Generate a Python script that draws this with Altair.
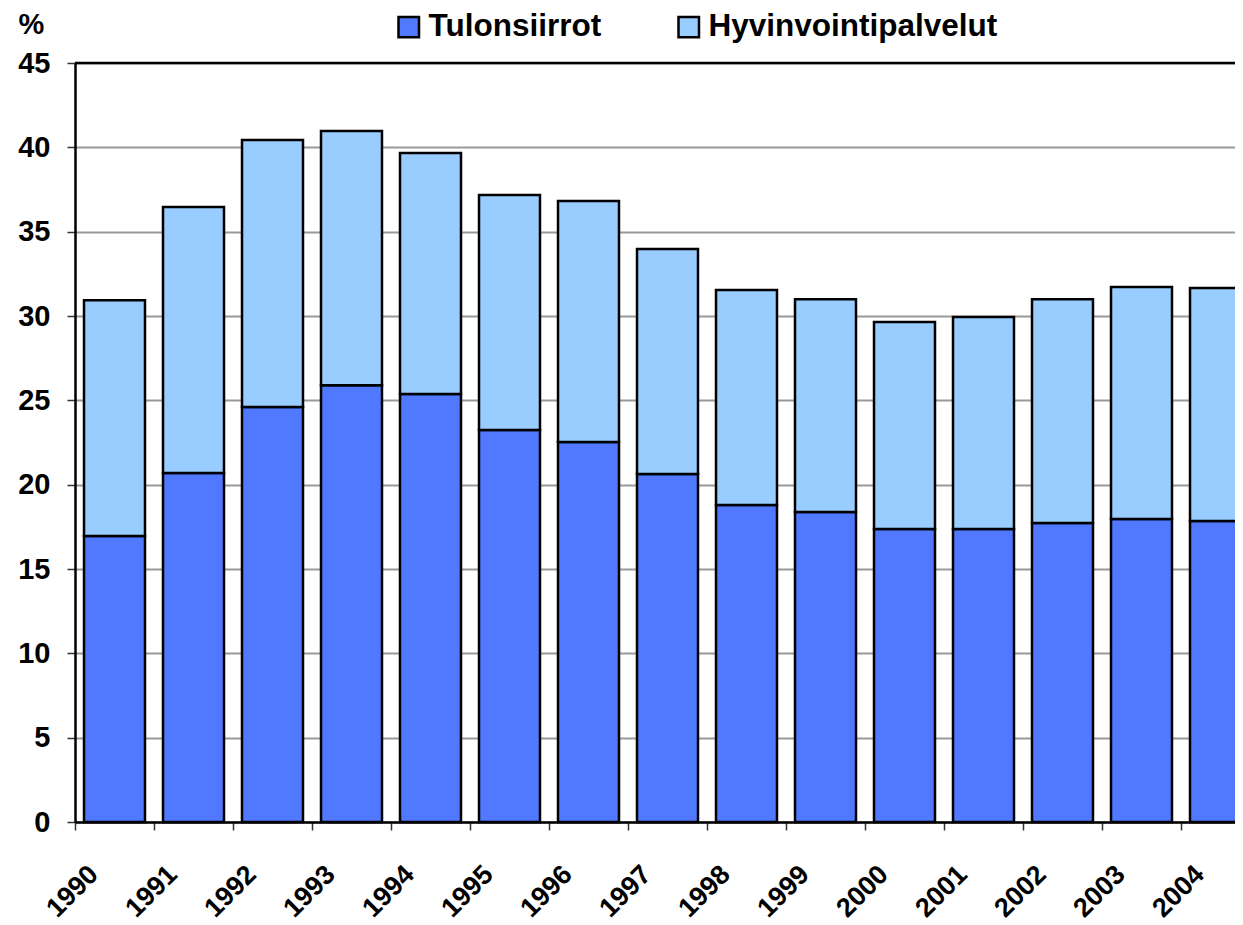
import altair as alt
import pandas as pd

years = ["1990", "1991", "1992", "1993", "1994", "1995", "1996", "1997",
         "1998", "1999", "2000", "2001", "2002", "2003", "2004"]
tulonsiirrot = [16.95, 20.69, 24.60, 25.90, 25.37, 23.24, 22.53, 20.63,
                18.79, 18.38, 17.37, 17.37, 17.73, 17.96, 17.85]
hyvinvointipalvelut = [13.99, 15.77, 15.83, 15.07, 14.29, 13.93, 14.29, 13.34,
                       12.75, 12.62, 12.27, 12.57, 13.27, 13.76, 13.81]
series = ["Tulonsiirrot", "Hyvinvointipalvelut"]
colors = ["#5079FF", "#99CCFF"]
y_ticks = [0, 5, 10, 15, 20, 25, 30, 35, 40, 45]

rows = []
for i, yr in enumerate(years):
    rows.append({"year": yr, "series": series[0], "value": tulonsiirrot[i], "ord": 0})
    rows.append({"year": yr, "series": series[1], "value": hyvinvointipalvelut[i], "ord": 1})
df = pd.DataFrame(rows)

FONT = "Liberation Sans"

bars = alt.Chart(df).mark_bar(stroke="black", strokeWidth=2.5).encode(
    x=alt.X("year:N", sort=years,
            scale=alt.Scale(range=[0, 1185], paddingInner=0.228, paddingOuter=0.114),
            axis=alt.Axis(title=None, labelAngle=-45, labelAlign="right",
                          labelBaseline="middle", labelOffset=-12, labelPadding=40,
                          labelFontSize=27, labelFontWeight="bold", labelFont=FONT,
                          labelColor="black", bandPosition=0, tickOffset=-9,
                          tickSize=8, tickColor="#333333", tickWidth=1.5,
                          domainColor="black", domainWidth=2.5, grid=False,
                          labelOverlap=False, labelBound=False)),
    y=alt.Y("value:Q", stack="zero",
            scale=alt.Scale(domain=[0, 45], nice=False),
            axis=alt.Axis(values=y_ticks, title="%", titleAngle=0, titleX=-57,
                          titleY=-30, titleAlign="left", titleBaseline="alphabetic",
                          titleFontSize=29, titleFontWeight="bold", titleFont=FONT,
                          titleColor="black",
                          labelFontSize=29, labelFontWeight="bold", labelFont=FONT,
                          labelColor="black", labelPadding=17, tickSize=8,
                          tickColor="#333333", tickWidth=1.5, domainColor="black",
                          domainWidth=2.5, gridColor="#999999", gridWidth=2)),
    color=alt.Color("series:N", scale=alt.Scale(domain=series, range=colors),
                    legend=alt.Legend(title=None, orient="none", legendX=318,
                                      legendY=-52, direction="horizontal",
                                      symbolType="square", symbolSize=420,
                                      symbolStrokeColor="black", symbolStrokeWidth=2.5,
                                      labelFontSize=31.5, labelFontWeight="bold",
                                      labelFont=FONT, labelColor="black",
                                      labelLimit=0, labelOffset=4,
                                      columnPadding=71, padding=0)),
    order=alt.Order("ord:Q"),
)

top_border = alt.Chart(pd.DataFrame({"y": [45]})).mark_rule(
    color="black", strokeWidth=2.5).encode(y="y:Q")

chart = alt.layer(bars, top_border).properties(
    width=1160, height=759,
    autosize=alt.AutoSizeParams(type="none"),
    padding={"left": 67, "top": 55, "right": 0, "bottom": 103},
).configure_view(fill="#FFFFE5", stroke=None).configure(background="white")

chart.save("out.html", embed_options={"renderer": "svg", "actions": False})
